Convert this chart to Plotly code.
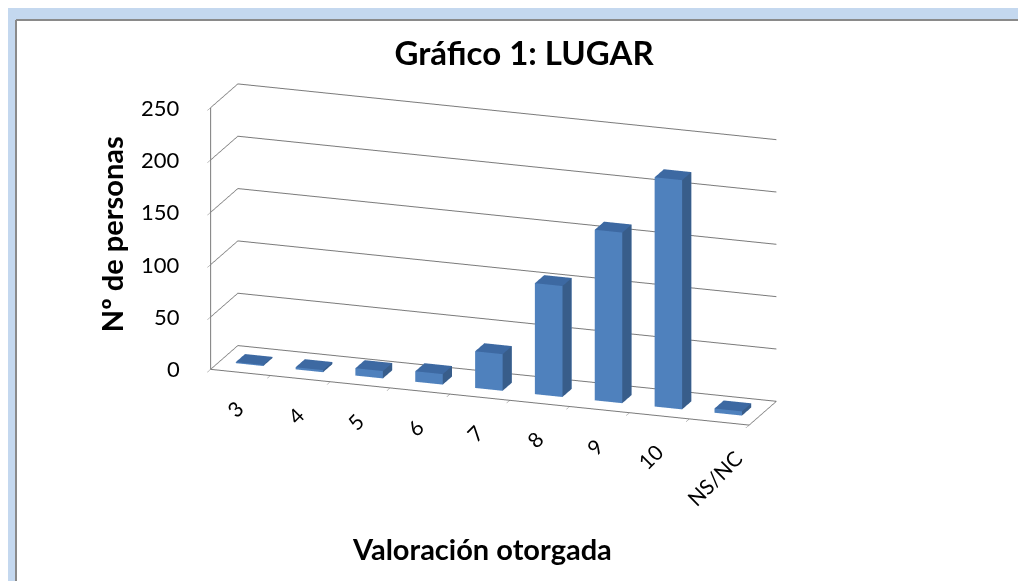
import plotly.graph_objects as go

# Datos
categorias = ["3", "4", "5", "6", "7", "8", "9", "10", "NS/NC"]
personas = [1, 2, 7, 10, 35, 106, 163, 219, 4]
ticks_valor = [0, 50, 100, 150, 200, 250]

AZUL = "#4F81BD"
AZUL_LADO = "#385D8A"
AZUL_TECHO = "#3D69A2"
GRIS = "#7A7A7A"
FUENTE = "Lato"

# Construir una caja (prisma) por barra
xs, ys, zs = [], [], []
ii, jj, kk, colores = [], [], [], []
ancho = 0.23
y0, y1 = 0.33, 0.67
for n, v in enumerate(personas):
    x0, x1 = n - ancho, n + ancho
    base = len(xs)
    for (px, py, pz) in [(x0, y0, 0), (x1, y0, 0), (x1, y1, 0), (x0, y1, 0),
                         (x0, y0, v), (x1, y0, v), (x1, y1, v), (x0, y1, v)]:
        xs.append(px); ys.append(py); zs.append(pz)
    caras = [
        ((0, 1, 5), AZUL), ((0, 5, 4), AZUL),            # frente
        ((1, 2, 6), AZUL_LADO), ((1, 6, 5), AZUL_LADO),  # derecha
        ((4, 5, 6), AZUL_TECHO), ((4, 6, 7), AZUL_TECHO),  # techo
        ((0, 3, 7), AZUL), ((0, 7, 4), AZUL),
        ((2, 3, 7), AZUL), ((2, 7, 6), AZUL),
        ((0, 1, 2), AZUL), ((0, 2, 3), AZUL),
    ]
    for (a, b, c), col in caras:
        ii.append(base + a); jj.append(base + b); kk.append(base + c)
        colores.append(col)

fig = go.Figure()
fig.add_trace(go.Mesh3d(
    x=xs, y=ys, z=zs, i=ii, j=jj, k=kk,
    facecolor=colores, flatshading=True,
    lighting=dict(ambient=1, diffuse=0, specular=0, roughness=1, fresnel=0),
    hoverinfo="skip", showscale=False,
))

# Etiquetas de categorías giradas y valores del eje
anotaciones = []
for n, c in enumerate(categorias):
    extra = 20 if len(c) > 2 else 0
    anotaciones.append(dict(
        x=n, y=0, z=0, text=c, showarrow=False, textangle=-45,
        xanchor="right", yanchor="top", xshift=11 + extra, yshift=-21,
        font=dict(family=FUENTE, size=21, color="black"),
    ))
for v in ticks_valor:
    anotaciones.append(dict(
        x=-0.5, y=0, z=v, text=str(v), showarrow=False,
        xanchor="right", yanchor="middle", xshift=-28,
        font=dict(family=FUENTE, size=22, color="black"),
    ))

fig.update_layout(
    width=1026, height=581,
    margin=dict(l=0, r=0, t=0, b=0),
    paper_bgcolor="white",
    showlegend=False,
    scene=dict(
        domain=dict(x=[0.023, 0.923], y=[0.1765, 0.9765]),
        xaxis=dict(range=[-0.5, len(categorias) - 0.5], showgrid=False, showbackground=False,
                   showline=True, linecolor=GRIS, linewidth=2,
                   tickvals=[n - 0.5 for n in range(len(categorias) + 1)],
                   ticktext=[""] * (len(categorias) + 1), ticks="outside", tickcolor=GRIS,
                   ticklen=8, title="", showspikes=False, zeroline=False),
        yaxis=dict(range=[0, 1], showgrid=False, showbackground=False, showline=True,
                   linecolor=GRIS, linewidth=2, showticklabels=False, ticks="",
                   title="", showspikes=False, zeroline=False),
        zaxis=dict(range=[0, 250], tickvals=ticks_valor, showgrid=True, gridcolor=GRIS,
                   gridwidth=2, showbackground=False, showline=True, linecolor=GRIS,
                   linewidth=2, ticks="outside", tickcolor=GRIS, ticklen=8,
                   showticklabels=False, title="", showspikes=False, zeroline=False),
        aspectmode="manual",
        aspectratio=dict(x=2.45, y=0.36, z=1.18),
        camera=dict(eye=dict(x=0.62, y=-1.80, z=0.60), center=dict(x=0, y=0, z=0),
                    projection=dict(type="orthographic")),
        annotations=anotaciones,
    ),
    title=dict(text="<b>Gráfico 1: LUGAR</b>", x=0.503, xanchor="center", y=0.922, yanchor="middle",
               font=dict(family=FUENTE, size=33, color="black")),
    annotations=[
        dict(text="<b>Nº de personas</b>", x=0.101, y=0.61, xref="paper", yref="paper",
             xanchor="center", yanchor="middle",
             textangle=-90, showarrow=False, font=dict(family=FUENTE, size=29, color="black")),
        dict(text="<b>Valoración otorgada</b>", x=0.462, y=0.07, xref="paper", yref="paper",
             xanchor="center", yanchor="middle",
             showarrow=False, font=dict(family=FUENTE, size=29, color="black")),
    ],
    shapes=[
        dict(type="rect", xref="paper", yref="paper", x0=0, x1=1, y0=1 - 12 / 581, y1=1,
             fillcolor="#C4D8EF", line_width=0, layer="above"),
        dict(type="rect", xref="paper", yref="paper", x0=0, x1=8 / 1026, y0=0, y1=1,
             fillcolor="#C4D8EF", line_width=0, layer="above"),
        dict(type="line", xref="paper", yref="paper", x0=8 / 1026, x1=1, y0=1 - 12 / 581,
             y1=1 - 12 / 581, line=dict(color="#8A8A8A", width=2), layer="above"),
        dict(type="line", xref="paper", yref="paper", x0=8 / 1026, x1=8 / 1026, y0=0,
             y1=1 - 12 / 581, line=dict(color="#8A8A8A", width=2), layer="above"),
    ],
)

fig.write_html("out.html")
